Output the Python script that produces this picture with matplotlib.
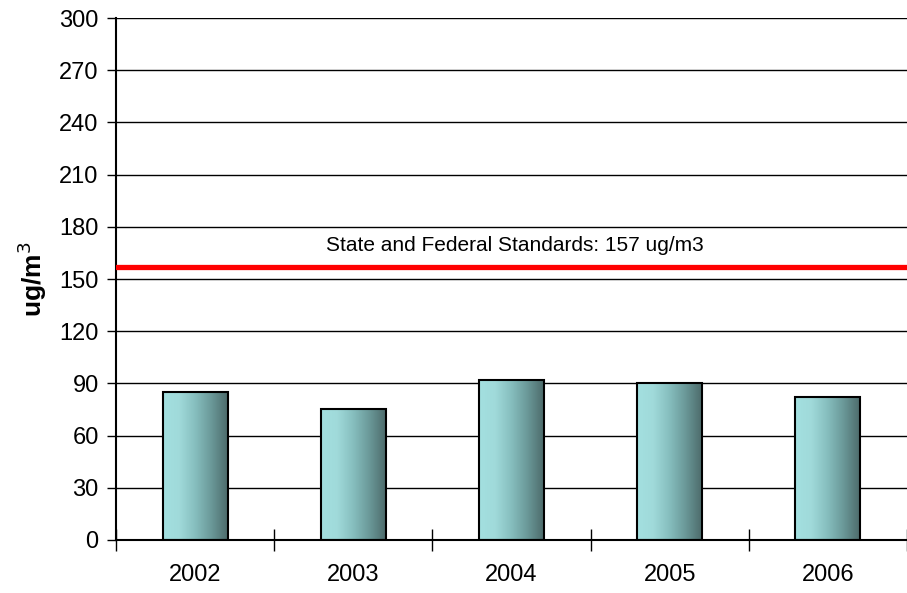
import numpy as np
import matplotlib.pyplot as plt
from matplotlib.colors import LinearSegmentedColormap

plt.rcParams['font.family'] = ['Liberation Sans', 'DejaVu Sans']

years = ['2002', '2003', '2004', '2005', '2006']
values = [85, 75, 92, 90, 82]
standard = 157
standard_label = 'State and Federal Standards: 157 ug/m3'

fig = plt.figure(figsize=(9.07, 5.93), dpi=100)
ax = fig.add_axes([0.1279, 0.0894, 0.8721, 0.8802])

x = np.arange(len(years))
bars = ax.bar(x, values, width=0.41, color='none', edgecolor='black',
              linewidth=1.5, zorder=3)

# horizontal gradient inside each bar
cmap = LinearSegmentedColormap.from_list(
    'teal', ['#a3e0e0', '#a0dada', '#86bebe', '#6a9898', '#4d6b6b'])
grad = np.linspace(0, 1, 256).reshape(1, -1)
for b in bars:
    x0, y0 = b.get_x(), b.get_y()
    w, h = b.get_width(), b.get_height()
    ax.imshow(grad, cmap=cmap, aspect='auto', extent=(x0, x0 + w, y0, y0 + h),
              zorder=2, interpolation='bicubic')

ax.axhline(standard, color='#ff0000', linewidth=3.8, zorder=4)
ax.text(0.83, standard + 12.5, standard_label, fontsize=15, va='center', ha='left')

ax.set_xlim(-0.5, len(years) - 0.5)
ax.set_ylim(0, 300)
ax.set_yticks(np.arange(0, 301, 30))
ax.yaxis.grid(True, color='black', linewidth=1)
ax.set_axisbelow(True)

ax.set_xticks(x)
ax.set_xticklabels(years, fontsize=17)
ax.tick_params(axis='x', length=0, pad=17)
ax.set_xticks(np.arange(-0.5, len(years)), minor=True)
ax.tick_params(axis='x', which='minor', direction='inout', length=16, width=1)
ax.tick_params(axis='y', direction='out', length=6.5, width=1, labelsize=17, pad=6)

ax.spines['top'].set_visible(False)
ax.spines['right'].set_visible(False)
ax.spines['left'].set_linewidth(1.5)
ax.spines['bottom'].set_linewidth(1.5)

ax.set_ylabel('ug/m$^3$', fontsize=19, fontweight='bold')
ax.yaxis.set_label_coords(-0.085, 0.5)

fig.savefig('out.png', dpi=100)
